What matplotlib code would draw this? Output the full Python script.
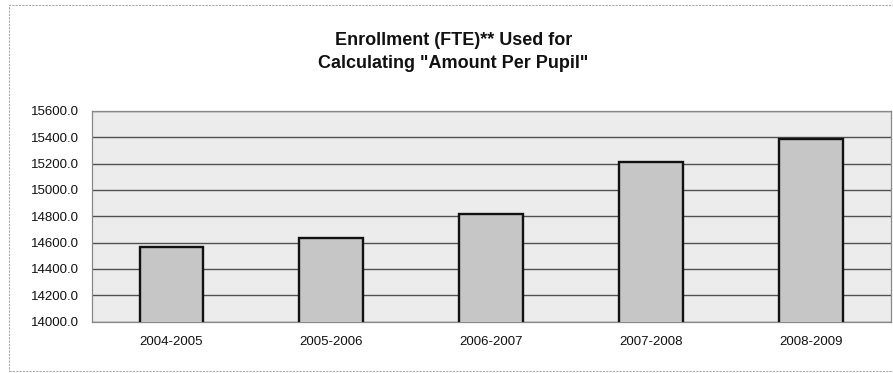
import matplotlib.pyplot as plt
from matplotlib.patches import Rectangle

# data
years = ["2004-2005", "2005-2006", "2006-2007", "2007-2008", "2008-2009"]
fte = [14564, 14632, 14820, 15212, 15385]
yticks = [14000, 14200, 14400, 14600, 14800, 15000, 15200, 15400, 15600]

plt.rcParams['font.family'] = ['Liberation Sans', 'DejaVu Sans']

fig = plt.figure(figsize=(8.93, 3.73), dpi=100)
ax = fig.add_axes([0.1025, 0.1375, 0.8955, 0.5655])

# plot area
ax.set_facecolor("#ececec")
ax.bar(range(len(years)), fte, width=0.4, color="#c6c6c6",
       edgecolor="#111111", linewidth=1.7, zorder=3)

ax.set_ylim(14000, 15600)
ax.set_xlim(-0.5, len(years) - 0.5)
ax.set_yticks(yticks)
ax.set_yticklabels([f"{v:.1f}" for v in yticks], fontsize=9.5, color="#111111")
ax.set_xticks(range(len(years)))
ax.set_xticklabels(years, fontsize=9.5, color="#111111")
ax.tick_params(length=0, pad=9)
ax.tick_params(axis="x", pad=10)

ax.grid(axis="y", color="#505050", linewidth=1.0, zorder=1)
for s in ax.spines.values():
    s.set_color("#888888")
    s.set_linestyle((0, (2, 1)))
    s.set_linewidth(0.9)

# title
fig.text(0.508, 0.892, "Enrollment (FTE)** Used for", ha="center", va="center",
         fontsize=13, fontweight="bold", color="#111111")
fig.text(0.508, 0.830, 'Calculating "Amount Per Pupil"', ha="center", va="center",
         fontsize=13, fontweight="bold", color="#111111")

# outer chart border
fig.patches.append(Rectangle((0.010, 0.005), 1.2, 0.982, transform=fig.transFigure,
                             fill=False, edgecolor="#aaaaaa", linewidth=0.8,
                             linestyle=(0, (2, 1))))

fig.savefig("out.png", dpi=100)
